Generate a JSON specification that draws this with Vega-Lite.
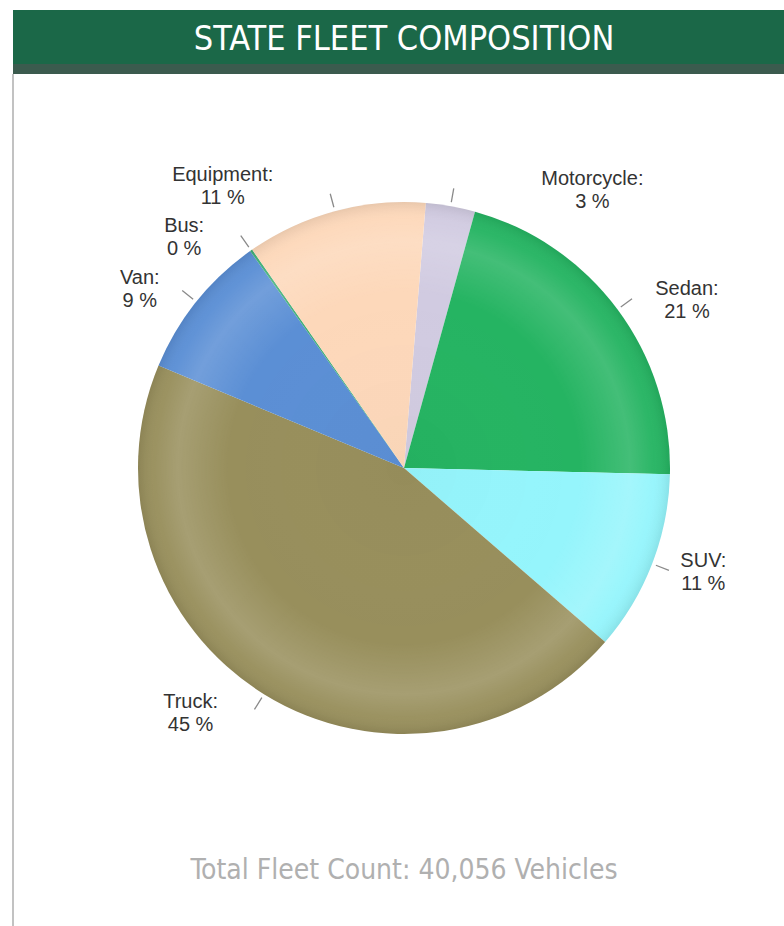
{
  "$schema": "https://vega.github.io/schema/vega-lite/v6.json",
  "background": "white",
  "padding": {"left": 12, "top": 10, "right": -10, "bottom": 0},
  "spacing": 0,
  "bounds": "flush",
  "config": {"view": {"stroke": null}, "concat": {"spacing": 0}},
  "datasets": {
    "fleet": [
      {"type": "Motorcycle", "count": 1200, "order": 1},
      {"type": "Sedan", "count": 8440, "order": 2},
      {"type": "SUV", "count": 4400, "order": 3},
      {"type": "Truck", "count": 18000, "order": 4},
      {"type": "Van", "count": 3560, "order": 5},
      {"type": "Bus", "count": 60, "order": 6},
      {"type": "Equipment", "count": 4396, "order": 7}
    ]
  },
  "vconcat": [
    {
      "width": 782,
      "height": 54,
      "view": {"fill": "#1b6848", "stroke": null},
      "data": {"values": [{"title": "STATE FLEET COMPOSITION"}]},
      "mark": {"type": "text", "color": "#ffffff", "font": "Liberation Sans Narrow, DejaVu Sans Condensed, Roboto", "fontSize": 34, "dy": 3},
      "encoding": {"text": {"field": "title"}}
    },
    {
      "width": 782,
      "height": 10,
      "view": {"fill": "#3b5b4e", "stroke": null},
      "data": {"values": [{"t": ""}]},
      "mark": {"type": "text"},
      "encoding": {"text": {"field": "t"}}
    },
    {
      "width": 782,
      "height": 788,
      "view": {"stroke": "#c2c2c2", "strokeWidth": 2, "strokeDash": [0, 2352, 788]},
      "data": {"name": "fleet"},
      "transform": [
        {"joinaggregate": [{"op": "sum", "field": "count", "as": "total"}]},
        {"calculate": "datum.type + ':\\n' + format(100 * datum.count / datum.total, '.0f') + ' %'", "as": "label"}
      ],
      "layer": [
        {
          "mark": {"type": "arc", "radius": 266},
          "encoding": {
            "theta": {"field": "count", "type": "quantitative", "stack": true, "scale": {"range": [0.082, 6.3652]}},
            "order": {"field": "order", "type": "quantitative"},
            "color": {
              "field": "type", "type": "nominal", "legend": null,
              "scale": {
                "domain": ["Motorcycle", "Sedan", "SUV", "Truck", "Van", "Bus", "Equipment"],
                "range": ["#d1cbe1", "#25b462", "#95f5fc", "#988f5c", "#5b8fd5", "#3fae78", "#fdd8ba"]
              }
            }
          }
        },
        {
          "data": {"values": [{}]},
          "mark": {
            "type": "arc", "radius": 266, "theta": 0, "theta2": 6.2832,
            "fill": {
              "gradient": "radial", "x1": 0.5, "y1": 0.5, "r1": 0, "x2": 0.5, "y2": 0.5, "r2": 0.5,
              "stops": [
                {"offset": 0, "color": "rgba(0,0,0,0.02)"},
                {"offset": 0.66, "color": "rgba(255,255,255,0)"},
                {"offset": 0.85, "color": "rgba(255,255,255,0.14)"},
                {"offset": 0.94, "color": "rgba(255,255,255,0.03)"},
                {"offset": 1, "color": "rgba(0,0,0,0.08)"}
              ]
            }
          },
          "encoding": {}
        },
        {
          "mark": {"type": "arc", "radius": 284, "radius2": 270, "padAngle": 3, "fillOpacity": 0, "stroke": "#8a8a8a", "strokeWidth": 1.3},
          "encoding": {
            "theta": {"field": "count", "type": "quantitative", "stack": true, "scale": {"range": [0.082, 6.3652]}},
            "order": {"field": "order", "type": "quantitative"},
            "detail": {"field": "type"}
          }
        },
        {
          "mark": {"type": "text", "radius": 336, "thetaOffset": 0.419, "dy": -11, "fontSize": 20, "font": "Liberation Sans", "lineBreak": "\n", "lineHeight": 23, "color": "#333333", "align": "center", "baseline": "middle"},
          "encoding": {
            "theta": {"field": "count", "type": "quantitative", "stack": true, "scale": {"range": [0.082, 6.3652]}},
            "order": {"field": "order", "type": "quantitative"},
            "detail": {"field": "type"},
            "text": {"condition": {"test": "datum.type !== 'Motorcycle'", "value": ""}, "field": "label"}
          }
        },
        {
          "mark": {"type": "text", "radius": 329, "thetaOffset": 0.103, "dy": -11, "fontSize": 20, "font": "Liberation Sans", "lineBreak": "\n", "lineHeight": 23, "color": "#333333", "align": "center", "baseline": "middle"},
          "encoding": {
            "theta": {"field": "count", "type": "quantitative", "stack": true, "scale": {"range": [0.082, 6.3652]}},
            "order": {"field": "order", "type": "quantitative"},
            "detail": {"field": "type"},
            "text": {"condition": {"test": "datum.type !== 'Sedan'", "value": ""}, "field": "label"}
          }
        },
        {
          "mark": {"type": "text", "radius": 317, "thetaOffset": -0.033, "dy": -11, "fontSize": 20, "font": "Liberation Sans", "lineBreak": "\n", "lineHeight": 23, "color": "#333333", "align": "center", "baseline": "middle"},
          "encoding": {
            "theta": {"field": "count", "type": "quantitative", "stack": true, "scale": {"range": [0.082, 6.3652]}},
            "order": {"field": "order", "type": "quantitative"},
            "detail": {"field": "type"},
            "text": {"condition": {"test": "datum.type !== 'SUV'", "value": ""}, "field": "label"}
          }
        },
        {
          "mark": {"type": "text", "radius": 325, "thetaOffset": 0.162, "dy": -11, "fontSize": 20, "font": "Liberation Sans", "lineBreak": "\n", "lineHeight": 23, "color": "#333333", "align": "center", "baseline": "middle"},
          "encoding": {
            "theta": {"field": "count", "type": "quantitative", "stack": true, "scale": {"range": [0.082, 6.3652]}},
            "order": {"field": "order", "type": "quantitative"},
            "detail": {"field": "type"},
            "text": {"condition": {"test": "datum.type !== 'Truck'", "value": ""}, "field": "label"}
          }
        },
        {
          "mark": {"type": "text", "radius": 319, "thetaOffset": -0.080, "dy": -11, "fontSize": 20, "font": "Liberation Sans", "lineBreak": "\n", "lineHeight": 23, "color": "#333333", "align": "center", "baseline": "middle"},
          "encoding": {
            "theta": {"field": "count", "type": "quantitative", "stack": true, "scale": {"range": [0.082, 6.3652]}},
            "order": {"field": "order", "type": "quantitative"},
            "detail": {"field": "type"},
            "text": {"condition": {"test": "datum.type !== 'Van'", "value": ""}, "field": "label"}
          }
        },
        {
          "mark": {"type": "text", "radius": 319, "thetaOffset": -0.148, "dy": -11, "fontSize": 20, "font": "Liberation Sans", "lineBreak": "\n", "lineHeight": 23, "color": "#333333", "align": "center", "baseline": "middle"},
          "encoding": {
            "theta": {"field": "count", "type": "quantitative", "stack": true, "scale": {"range": [0.082, 6.3652]}},
            "order": {"field": "order", "type": "quantitative"},
            "detail": {"field": "type"},
            "text": {"condition": {"test": "datum.type !== 'Bus'", "value": ""}, "field": "label"}
          }
        },
        {
          "mark": {"type": "text", "radius": 335, "thetaOffset": -0.309, "dy": -11, "fontSize": 20, "font": "Liberation Sans", "lineBreak": "\n", "lineHeight": 23, "color": "#333333", "align": "center", "baseline": "middle"},
          "encoding": {
            "theta": {"field": "count", "type": "quantitative", "stack": true, "scale": {"range": [0.082, 6.3652]}},
            "order": {"field": "order", "type": "quantitative"},
            "detail": {"field": "type"},
            "text": {"condition": {"test": "datum.type !== 'Equipment'", "value": ""}, "field": "label"}
          }
        }
      ]
    },
    {
      "width": 782,
      "height": 18,
      "view": {"stroke": "#c2c2c2", "strokeWidth": 2, "strokeDash": [0, 1582, 18]},
      "data": {"values": [{"t": "Total Fleet Count: 40,056 Vehicles"}]},
      "mark": {"type": "text", "color": "#b0b0b0", "font": "Liberation Sans Narrow, DejaVu Sans Condensed, Roboto", "fontSize": 28},
      "encoding": {"text": {"field": "t"}}
    },
    {
      "width": 782,
      "height": 46,
      "view": {"stroke": "#c2c2c2", "strokeWidth": 2, "strokeDash": [0, 1610, 46]},
      "data": {"values": [{"t": ""}]},
      "mark": {"type": "text"},
      "encoding": {"text": {"field": "t"}}
    }
  ]
}
